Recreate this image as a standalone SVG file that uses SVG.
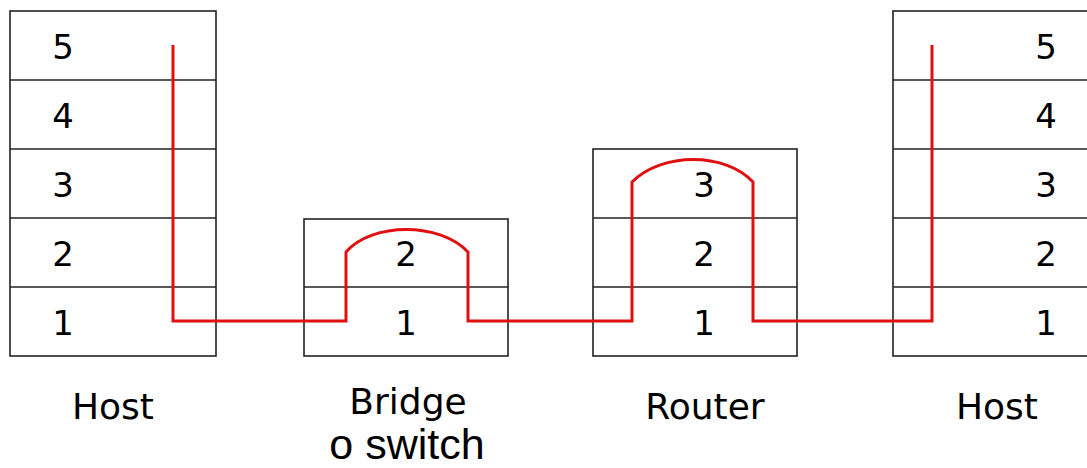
<svg xmlns="http://www.w3.org/2000/svg" width="1087" height="468" viewBox="0 0 1087 468">
<style>
.box{fill:#fff;stroke:#222;stroke-width:1.6}
.sep{stroke:#222;stroke-width:1.6}
.d{font-family:"DejaVu Sans",sans-serif;font-size:34px;fill:#000;text-anchor:middle}
.lbl{font-family:"DejaVu Sans",sans-serif;font-size:36px;fill:#000;text-anchor:middle}
.lbl2{font-family:"Liberation Sans",Arial,sans-serif;font-size:43px;fill:#000;text-anchor:middle}
.path{fill:none;stroke:#e01010;stroke-width:3;stroke-linejoin:miter}
</style>
<rect width="1087" height="468" fill="#fff"/>
<g id="host-left">
<rect class="box" x="10" y="11" width="206" height="345"/>
<line class="sep" x1="10" y1="80" x2="216" y2="80"/>
<line class="sep" x1="10" y1="149" x2="216" y2="149"/>
<line class="sep" x1="10" y1="218" x2="216" y2="218"/>
<line class="sep" x1="10" y1="287" x2="216" y2="287"/>
<text class="d" x="63" y="59">5</text>
<text class="d" x="63" y="128">4</text>
<text class="d" x="63" y="197">3</text>
<text class="d" x="63" y="266">2</text>
<text class="d" x="63" y="335">1</text>
<text class="lbl" x="113" y="419">Host</text>
</g>
<g id="bridge">
<rect class="box" x="304" y="219" width="204" height="137"/>
<line class="sep" x1="304" y1="287" x2="508" y2="287"/>
<text class="d" x="406" y="266">2</text>
<text class="d" x="406" y="335">1</text>
<text class="lbl" x="408" y="414">Bridge</text>
<text class="lbl2" x="407" y="459">o switch</text>
</g>
<g id="router">
<rect class="box" x="593" y="149" width="204" height="207"/>
<line class="sep" x1="593" y1="218" x2="797" y2="218"/>
<line class="sep" x1="593" y1="287" x2="797" y2="287"/>
<text class="d" x="704" y="197">3</text>
<text class="d" x="704" y="266">2</text>
<text class="d" x="704" y="335">1</text>
<text class="lbl" x="705" y="419">Router</text>
</g>
<g id="host-right">
<rect class="box" x="893" y="11" width="197" height="345"/>
<line class="sep" x1="893" y1="80" x2="1090" y2="80"/>
<line class="sep" x1="893" y1="149" x2="1090" y2="149"/>
<line class="sep" x1="893" y1="218" x2="1090" y2="218"/>
<line class="sep" x1="893" y1="287" x2="1090" y2="287"/>
<text class="d" x="1046" y="59">5</text>
<text class="d" x="1046" y="128">4</text>
<text class="d" x="1046" y="197">3</text>
<text class="d" x="1046" y="266">2</text>
<text class="d" x="1046" y="335">1</text>
<text class="lbl" x="997" y="419">Host</text>
</g>
<g id="connectors">
<path class="path" d="M173,45 V321 H346 V252 C372,222 440,222 468,252 V321 H632 V182 C662,152 725,152 753,182 V321 H932 V45"/>
</g>
</svg>
